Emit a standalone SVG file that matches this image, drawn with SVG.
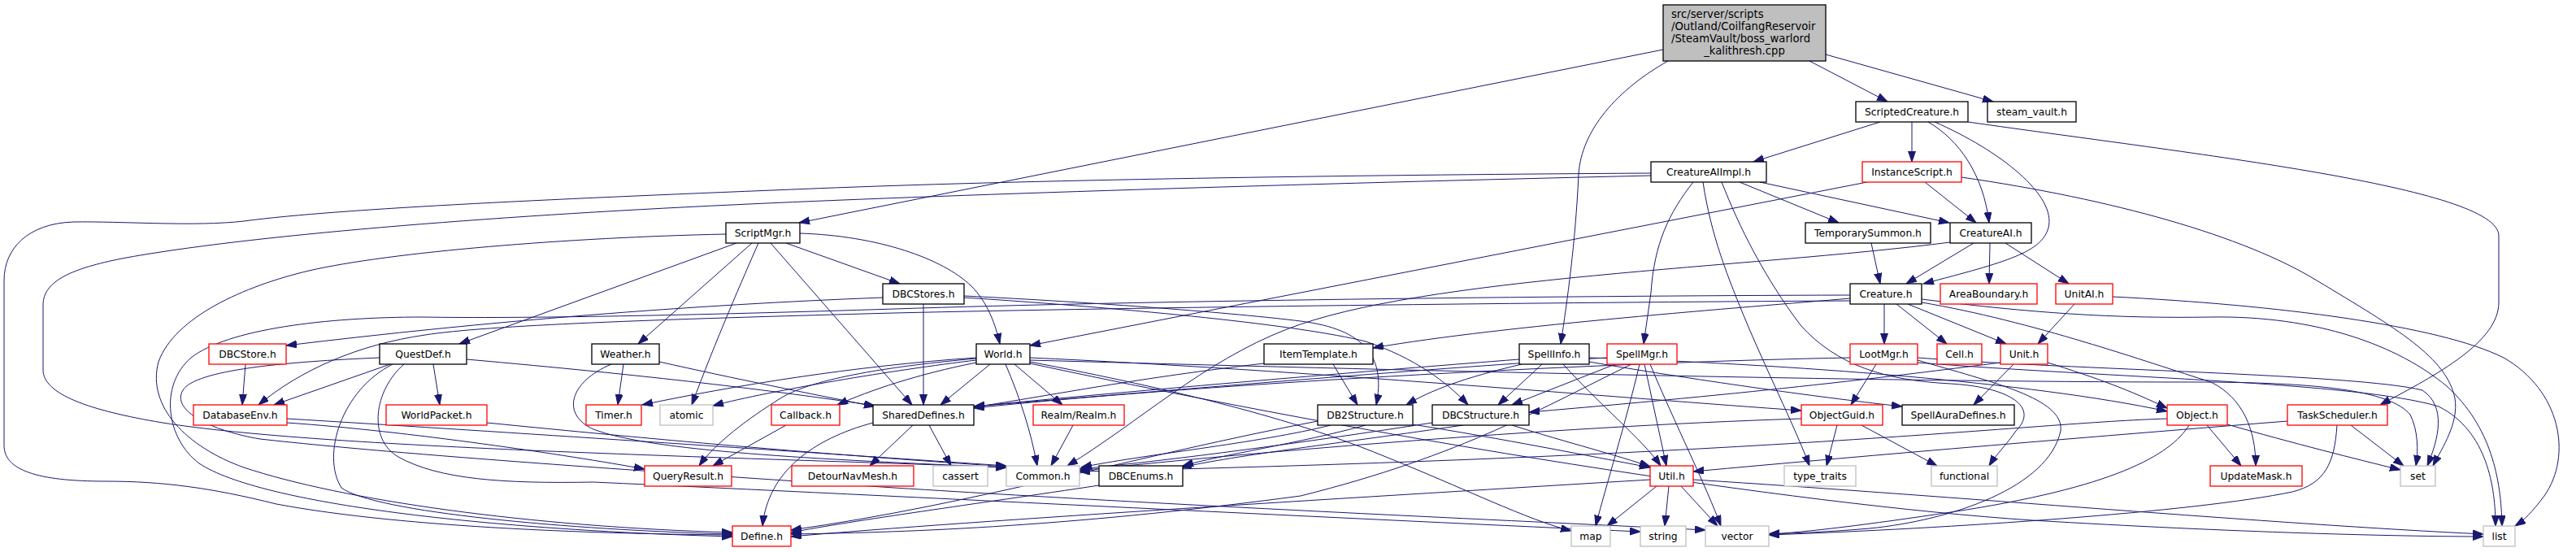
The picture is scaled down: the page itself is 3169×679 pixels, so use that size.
<svg xmlns="http://www.w3.org/2000/svg" width="3169" height="679" viewBox="0 0 3169 679">
<defs>
<marker id="a" markerWidth="14" markerHeight="10" refX="13" refY="4.5" orient="auto" markerUnits="userSpaceOnUse"><path d="M0,0 L13,4.5 L0,9 z" fill="#191970" stroke="#191970" stroke-width="1"/></marker>
<style>
.n rect{fill:#fff;stroke:#000;stroke-width:1.3}
.n.r rect{stroke:#ff0000}
.n.g rect{stroke:#bfbfbf}
.n.root rect{fill:#bfbfbf}
text{font-family:"DejaVu Sans",sans-serif;font-size:12.3px;text-anchor:middle;fill:#000}
.root text{font-size:13.2px;text-anchor:start}
.root text.c{text-anchor:middle}
#edges path{fill:none;stroke:#191970;stroke-width:1;marker-end:url(#a)}
</style>
</defs>
<rect width="3169" height="679" fill="#fff"/>
<g id="edges">
<path d="M2046,61 L983,274"/>
<path d="M2052,75 C1990,110 1945,160 1942,215 C1938,300 1928,370 1920,423"/>
<path d="M2226,75 L2322,125"/>
<path d="M2246,67 L2452,125"/>
<path d="M2313,150 L2157,199"/>
<path d="M2352,150 L2352,199"/>
<path d="M2372,150 C2410,172 2440,215 2447,274"/>
<path d="M2380,150 C2460,185 2530,240 2520,280 C2512,310 2470,322 2366,349"/>
<path d="M2421,150 C2700,190 3074,230 3074,290 L3074,372 C3074,420 3000,460 2928,498"/>
<path d="M2165,224 L2398,274"/>
<path d="M2140,224 L2262,274"/>
<path d="M2083,224 C2053,262 2035,300 2031,360 L2022,423"/>
<path d="M2095,224 C2105,290 2125,340 2150,400 C2180,470 2210,530 2226,573"/>
<path d="M2118,224 C2140,280 2170,340 2215,400 C2260,450 2320,468 2400,472 C2470,476 2510,500 2480,530 C2470,545 2455,560 2447,573"/>
<path d="M2031,213 C1700,215 1300,220 1000,232 C700,244 420,256 300,272 C240,279 150,272 90,273 C35,275 5,305 5,345 L5,548 C5,578 45,592 130,592 C200,592 260,600 340,620 C500,650 750,657 901,658"/>
<path d="M2031,216 C1600,226 1150,240 900,252 C600,266 300,290 150,318 C90,330 53,345 53,375 L53,455 C53,485 110,505 200,520 C400,552 900,562 1238,575"/>
<path d="M2297,224 L1267,425"/>
<path d="M2368,224 L2431,274"/>
<path d="M2413,218 C2600,245 2760,290 2850,345 C2950,405 3010,440 3020,490 C3025,520 3005,550 2993,573"/>
<path d="M2302,299 L2313,349"/>
<path d="M2428,299 L2345,349"/>
<path d="M2448,299 L2447,349"/>
<path d="M2467,299 L2545,349"/>
<path d="M2399,298 C2150,330 1750,340 1583,405 C1480,445 1400,520 1313,573"/>
<path d="M906,299 L565,423"/>
<path d="M925,299 L785,423"/>
<path d="M933,299 C915,340 880,420 851,498"/>
<path d="M948,299 L1122,498"/>
<path d="M967,299 L1107,349"/>
<path d="M984,287 C1080,290 1160,318 1195,352 C1215,372 1225,400 1230,423"/>
<path d="M893,288 C700,292 480,310 380,333 C300,352 215,390 195,445 C180,500 230,550 300,575 C420,615 650,648 901,655"/>
<path d="M1136,374 L1136,498"/>
<path d="M1086,366 C850,375 600,395 352,425"/>
<path d="M1186,364 C1350,372 1520,385 1600,395 C1680,405 1705,440 1693,498"/>
<path d="M1186,366 C1400,380 1600,400 1680,420 C1740,440 1780,470 1806,498"/>
<path d="M2318,374 L2318,423"/>
<path d="M2333,374 L2395,423"/>
<path d="M2347,374 L2468,423"/>
<path d="M2364,372 C2500,395 2640,445 2720,470 C2760,490 2775,530 2775,573"/>
<path d="M2364,368 C2500,385 2600,392 2720,390 C2850,388 2950,425 3010,475 C3065,525 3077,590 3078,647"/>
<path d="M2276,367 C2150,378 1850,400 1689,428"/>
<path d="M2276,363 C1900,364 1400,370 1100,380 C850,388 640,392 520,390 C400,390 280,405 235,440 C195,475 205,540 245,570 C320,620 600,652 901,660"/>
<path d="M2276,370 C1900,372 1400,378 1100,385 C800,393 600,400 523,412 C440,424 370,455 318,498"/>
<path d="M2552,374 L2507,423"/>
<path d="M2599,365 C2800,375 3000,400 3080,440 C3150,480 3165,560 3130,610 C3115,630 3105,640 3094,647"/>
<path d="M2308,448 L2277,498"/>
<path d="M2276,440 C2000,445 1500,470 1198,502"/>
<path d="M2359,443 C2450,470 2540,490 2535,530 C2520,600 2400,640 2300,650 C2240,655 2200,656 2176,657"/>
<path d="M2359,440 C2550,455 2900,460 2980,480 C3010,500 3000,540 2986,573"/>
<path d="M2359,446 C2600,465 2900,470 3000,500 C3060,530 3070,600 3070,647"/>
<path d="M2519,446 C2580,465 2620,480 2666,502"/>
<path d="M2477,448 L2428,498"/>
<path d="M2461,446 C2350,460 2200,480 1881,507"/>
<path d="M480,448 L337,498"/>
<path d="M533,448 L541,498"/>
<path d="M574,442 C800,462 950,480 1076,499"/>
<path d="M483,448 C420,480 395,560 420,600 C460,630 700,652 901,657"/>
<path d="M497,448 C460,480 452,540 490,562 C540,590 620,595 730,593 C1100,610 1700,640 2018,654"/>
<path d="M467,440 C350,445 240,455 225,480 C210,505 260,530 320,540 C500,560 800,580 1100,600 C1500,625 1900,642 2098,652"/>
<path d="M767,448 L760,498"/>
<path d="M811,445 C900,465 1000,485 1076,500"/>
<path d="M752,448 C700,470 690,510 730,528 C800,555 1000,565 1238,575"/>
<path d="M1218,448 L1157,498"/>
<path d="M1237,448 C1255,490 1268,530 1276,573"/>
<path d="M1248,448 L1307,498"/>
<path d="M1201,440 C1050,450 900,475 790,498"/>
<path d="M1201,443 C1100,455 950,480 877,499"/>
<path d="M1201,446 C1130,460 1070,480 1030,498"/>
<path d="M1201,441 C1100,450 1000,465 960,490 C920,515 880,545 860,573"/>
<path d="M1267,440 C1600,455 2000,490 2216,505"/>
<path d="M1267,445 C1450,480 1590,515 1700,560 C1800,600 1880,640 1933,653"/>
<path d="M1267,443 C1700,455 2300,470 2700,470 C2850,470 2940,480 2965,510 C2975,530 2975,555 2972,573"/>
<path d="M1267,447 C1700,540 2200,620 2500,640 C2750,655 2950,660 3055,660"/>
<path d="M1897,448 L1843,498"/>
<path d="M1923,448 C1970,500 2020,540 2043,573"/>
<path d="M1869,442 C1700,455 1400,480 1198,500"/>
<path d="M1872,448 C1800,465 1760,480 1730,498"/>
<path d="M1955,445 C2100,470 2250,490 2340,500"/>
<path d="M1955,440 C2200,448 2500,470 2666,506"/>
<path d="M1987,448 L1860,498"/>
<path d="M2023,448 L2050,573"/>
<path d="M2017,448 C2000,520 1975,600 1963,647"/>
<path d="M2030,448 C2060,520 2100,600 2117,647"/>
<path d="M2007,448 C1900,500 1800,560 1600,610 C1300,650 1100,655 973,657"/>
<path d="M1977,440 C1800,450 1500,475 1198,500"/>
<path d="M1637,523 C1550,545 1400,560 1330,575"/>
<path d="M1738,522 C1850,540 1950,560 2030,575"/>
<path d="M1680,523 C1600,545 1500,560 1455,573"/>
<path d="M1621,518 C1400,560 1200,620 973,652"/>
<path d="M1762,520 C1600,545 1450,565 1328,577"/>
<path d="M1800,523 C1650,545 1520,560 1453,575"/>
<path d="M1860,523 C1930,545 1990,560 2030,574"/>
<path d="M1352,597 C1200,620 1050,640 973,655"/>
<path d="M1320,523 L1293,573"/>
<path d="M1123,523 L1070,573"/>
<path d="M1143,523 L1170,573"/>
<path d="M1074,520 C1000,540 945,580 938,647"/>
<path d="M353,515 C600,530 900,550 1238,573"/>
<path d="M353,520 C500,530 700,560 793,577"/>
<path d="M599,520 C800,540 1000,558 1238,574"/>
<path d="M967,523 L877,573"/>
<path d="M302,448 L298,498"/>
<path d="M2038,598 L1977,647"/>
<path d="M2053,598 L2048,647"/>
<path d="M2068,598 L2113,647"/>
<path d="M2030,590 C1700,610 1200,640 973,660"/>
<path d="M2083,590 C2400,610 2800,645 3055,657"/>
<path d="M2260,523 L2247,573"/>
<path d="M2290,523 L2383,573"/>
<path d="M2216,515 C1900,525 1500,560 1328,579"/>
<path d="M2715,523 L2757,573"/>
<path d="M2740,522 C2820,545 2900,565 2953,578"/>
<path d="M2693,523 C2670,560 2600,600 2400,630 C2300,645 2220,655 2176,657"/>
<path d="M2666,515 C2500,520 2200,560 1328,580"/>
<path d="M2892,523 L2957,573"/>
<path d="M2814,518 C2600,535 2300,560 2083,580"/>
<path d="M2875,523 C2872,570 2860,595 2820,605 C2700,630 2400,650 2176,658"/>
<path d="M1555,447 C1400,465 1300,485 1198,501"/>
<path d="M1640,448 L1670,498"/>
</g>
<g id="n_root" class="n root"><rect x="2046" y="6" width="200" height="69"/><text x="2056" y="21.5">src/server/scripts</text><text x="2056" y="36.5">/Outland/CoilfangReservoir</text><text x="2056" y="51.5">/SteamVault/boss_warlord</text><text class="c" x="2146" y="66.5">_kalithresh.cpp</text></g>
<g id="n_ScriptedCreature" class="n"><rect x="2283" y="125" width="138" height="25"/><text x="2352" y="142">ScriptedCreature.h</text></g>
<g id="n_steam_vault" class="n"><rect x="2445" y="125" width="109" height="25"/><text x="2499.5" y="142">steam_vault.h</text></g>
<g id="n_CreatureAIImpl" class="n"><rect x="2031" y="199" width="142" height="25"/><text x="2102" y="216">CreatureAIImpl.h</text></g>
<g id="n_InstanceScript" class="n r"><rect x="2291" y="199" width="122" height="25"/><text x="2352" y="216">InstanceScript.h</text></g>
<g id="n_ScriptMgr" class="n"><rect x="893" y="274" width="91" height="25"/><text x="938.5" y="291">ScriptMgr.h</text></g>
<g id="n_TemporarySummon" class="n"><rect x="2221" y="274" width="154" height="25"/><text x="2298" y="291">TemporarySummon.h</text></g>
<g id="n_CreatureAI" class="n"><rect x="2399" y="274" width="100" height="25"/><text x="2449" y="291">CreatureAI.h</text></g>
<g id="n_DBCStores" class="n"><rect x="1086" y="349" width="100" height="25"/><text x="1136" y="366">DBCStores.h</text></g>
<g id="n_Creature" class="n"><rect x="2276" y="349" width="88" height="25"/><text x="2320" y="366">Creature.h</text></g>
<g id="n_AreaBoundary" class="n r"><rect x="2387" y="349" width="119" height="25"/><text x="2446.5" y="366">AreaBoundary.h</text></g>
<g id="n_UnitAI" class="n r"><rect x="2529" y="349" width="70" height="25"/><text x="2564" y="366">UnitAI.h</text></g>
<g id="n_DBCStore" class="n r"><rect x="257" y="423" width="95" height="25"/><text x="304.5" y="440">DBCStore.h</text></g>
<g id="n_QuestDef" class="n"><rect x="467" y="423" width="107" height="25"/><text x="520.5" y="440">QuestDef.h</text></g>
<g id="n_Weather" class="n"><rect x="728" y="423" width="83" height="25"/><text x="769.5" y="440">Weather.h</text></g>
<g id="n_World" class="n"><rect x="1201" y="423" width="66" height="25"/><text x="1234" y="440">World.h</text></g>
<g id="n_ItemTemplate" class="n"><rect x="1555" y="423" width="134" height="25"/><text x="1622" y="440">ItemTemplate.h</text></g>
<g id="n_SpellInfo" class="n"><rect x="1869" y="423" width="86" height="25"/><text x="1912" y="440">SpellInfo.h</text></g>
<g id="n_SpellMgr" class="n r"><rect x="1977" y="423" width="86" height="25"/><text x="2020" y="440">SpellMgr.h</text></g>
<g id="n_LootMgr" class="n r"><rect x="2276" y="423" width="83" height="25"/><text x="2317.5" y="440">LootMgr.h</text></g>
<g id="n_Cell" class="n r"><rect x="2383" y="423" width="55" height="25"/><text x="2410.5" y="440">Cell.h</text></g>
<g id="n_Unit" class="n r"><rect x="2461" y="423" width="58" height="25"/><text x="2490" y="440">Unit.h</text></g>
<g id="n_DatabaseEnv" class="n r"><rect x="238" y="498" width="115" height="25"/><text x="295.5" y="515">DatabaseEnv.h</text></g>
<g id="n_WorldPacket" class="n r"><rect x="475" y="498" width="124" height="25"/><text x="537" y="515">WorldPacket.h</text></g>
<g id="n_Timer" class="n r"><rect x="721" y="498" width="68" height="25"/><text x="755" y="515">Timer.h</text></g>
<g id="n_atomic" class="n g"><rect x="812" y="498" width="65" height="25"/><text x="844.5" y="515">atomic</text></g>
<g id="n_Callback" class="n r"><rect x="949" y="498" width="84" height="25"/><text x="991" y="515">Callback.h</text></g>
<g id="n_SharedDefines" class="n"><rect x="1074" y="498" width="124" height="25"/><text x="1136" y="515">SharedDefines.h</text></g>
<g id="n_Realm" class="n r"><rect x="1271" y="498" width="112" height="25"/><text x="1327" y="515">Realm/Realm.h</text></g>
<g id="n_DB2Structure" class="n"><rect x="1621" y="498" width="117" height="25"/><text x="1679.5" y="515">DB2Structure.h</text></g>
<g id="n_DBCStructure" class="n"><rect x="1762" y="498" width="119" height="25"/><text x="1821.5" y="515">DBCStructure.h</text></g>
<g id="n_ObjectGuid" class="n r"><rect x="2216" y="498" width="100" height="25"/><text x="2266" y="515">ObjectGuid.h</text></g>
<g id="n_SpellAuraDefines" class="n"><rect x="2340" y="498" width="138" height="25"/><text x="2409" y="515">SpellAuraDefines.h</text></g>
<g id="n_Object" class="n r"><rect x="2666" y="498" width="74" height="25"/><text x="2703" y="515">Object.h</text></g>
<g id="n_TaskScheduler" class="n r"><rect x="2814" y="498" width="123" height="25"/><text x="2875.5" y="515">TaskScheduler.h</text></g>
<g id="n_QueryResult" class="n r"><rect x="793" y="573" width="107" height="25"/><text x="846.5" y="590">QueryResult.h</text></g>
<g id="n_DetourNavMesh" class="n r"><rect x="974" y="573" width="150" height="25"/><text x="1049" y="590">DetourNavMesh.h</text></g>
<g id="n_cassert" class="n g"><rect x="1148" y="573" width="67" height="25"/><text x="1181.5" y="590">cassert</text></g>
<g id="n_Common" class="n g"><rect x="1238" y="573" width="90" height="25"/><text x="1283" y="590">Common.h</text></g>
<g id="n_DBCEnums" class="n"><rect x="1352" y="573" width="103" height="25"/><text x="1403.5" y="590">DBCEnums.h</text></g>
<g id="n_Util" class="n r"><rect x="2030" y="573" width="53" height="25"/><text x="2056.5" y="590">Util.h</text></g>
<g id="n_type_traits" class="n g"><rect x="2195" y="573" width="88" height="25"/><text x="2239" y="590">type_traits</text></g>
<g id="n_functional" class="n g"><rect x="2376" y="573" width="81" height="25"/><text x="2416.5" y="590">functional</text></g>
<g id="n_UpdateMask" class="n r"><rect x="2719" y="573" width="113" height="25"/><text x="2775.5" y="590">UpdateMask.h</text></g>
<g id="n_set" class="n g"><rect x="2953" y="573" width="43" height="25"/><text x="2974.5" y="590">set</text></g>
<g id="n_Define" class="n r"><rect x="901" y="647" width="72" height="25"/><text x="937" y="664">Define.h</text></g>
<g id="n_map" class="n g"><rect x="1933" y="647" width="48" height="25"/><text x="1957" y="664">map</text></g>
<g id="n_string" class="n g"><rect x="2018" y="647" width="56" height="25"/><text x="2046" y="664">string</text></g>
<g id="n_vector" class="n g"><rect x="2098" y="647" width="78" height="25"/><text x="2137" y="664">vector</text></g>
<g id="n_list" class="n g"><rect x="3055" y="647" width="39" height="25"/><text x="3074.5" y="664">list</text></g>
</svg>
